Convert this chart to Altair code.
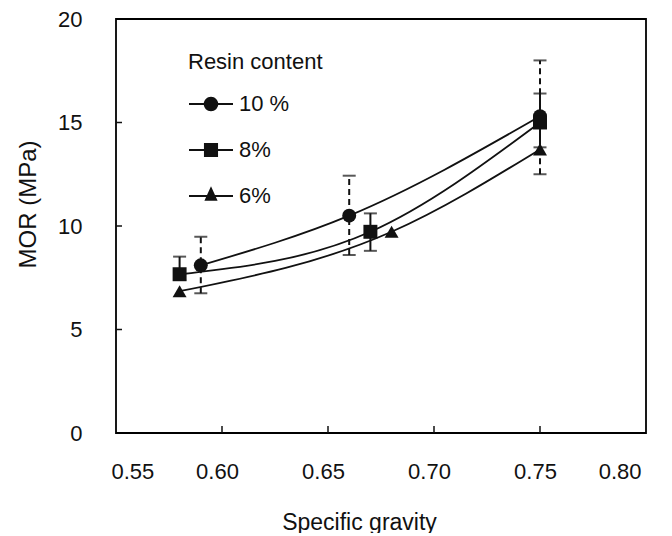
import altair as alt
import pandas as pd

series = ["10 %", "8%", "6%"]
sg_10 = [0.59, 0.66, 0.75]
mor_10 = [8.1, 10.5, 15.3]
sg_8 = [0.58, 0.67, 0.75]
mor_8 = [7.67, 9.72, 15.0]
sg_6 = [0.58, 0.68, 0.75]
mor_6 = [6.85, 9.72, 13.7]

err_series = ["10 %", "10 %", "10 %", "8%", "8%", "8%"]
err_sg = [0.59, 0.66, 0.75, 0.58, 0.67, 0.75]
err_low = [6.75, 8.6, 12.5, 7.4, 8.8, 13.8]
err_high = [9.48, 12.43, 18.0, 8.52, 10.61, 16.4]

x_ticks = [0.55, 0.60, 0.65, 0.70, 0.75, 0.80]
y_ticks = [0, 5, 10, 15, 20]
x_inner = [0.60, 0.65, 0.70, 0.75]
y_inner = [5, 10, 15]

rows = []
for s, xs, ys in zip(series, [sg_10, sg_8, sg_6], [mor_10, mor_8, mor_6]):
    for x, y in zip(xs, ys):
        rows.append({"series": s, "sg": x, "mor": y})
pts = pd.DataFrame(rows)
err = pd.DataFrame({"series": err_series, "sg": err_sg, "lo": err_low, "hi": err_high})

FONT = "Liberation Sans"
INK = "#111111"
W, H = 530, 414

xs = alt.Scale(domain=[0.55, 0.80], nice=False, zero=False)
ys = alt.Scale(domain=[0, 20], nice=False)

x_axis = alt.Axis(values=x_ticks, format=".2f", title="Specific gravity", ticks=False, domain=False,
                  grid=False, labelFontSize=22, labelPadding=28, labelOffset=-5, labelColor=INK,
                  labelFont=FONT, titleFont=FONT, titleFontSize=23, titleFontWeight="normal",
                  titleColor=INK, titleX=243, titleY=96, titleAlign="center", titleBaseline="alphabetic")
y_axis = alt.Axis(values=y_ticks, title="MOR (MPa)", ticks=False, domain=False, grid=False,
                  labelFontSize=22, labelPadding=34, labelColor=INK, labelFont=FONT,
                  titleFont=FONT, titleFontSize=24, titleFontWeight="normal", titleColor=INK,
                  titleX=-88, titleY=185, titleAngle=270, titleAlign="center", titleBaseline="middle")

base = alt.Chart(pts)

lines = base.mark_line(interpolate="monotone", color=INK, strokeWidth=1.8).encode(
    x=alt.X("sg:Q", scale=xs, axis=x_axis),
    y=alt.Y("mor:Q", scale=ys, axis=y_axis),
    detail="series:N",
)

dash_scale = alt.Scale(domain=["10 %", "8%"], range=[[6, 4], [1, 0]])
err_rule = alt.Chart(err).mark_rule(color=INK, strokeWidth=2).encode(
    x="sg:Q", y="lo:Q", y2="hi:Q",
    strokeDash=alt.StrokeDash("series:N", scale=dash_scale, legend=None),
)
cap_lo = alt.Chart(err).mark_tick(color=INK, orient="horizontal", size=13, thickness=2).encode(
    x="sg:Q", y="lo:Q")
cap_hi = alt.Chart(err).mark_tick(color=INK, orient="horizontal", size=13, thickness=2).encode(
    x="sg:Q", y="hi:Q")

points = base.mark_point(filled=True, color=INK, size=195, opacity=1).encode(
    x="sg:Q", y="mor:Q",
    shape=alt.Shape("series:N", scale=alt.Scale(domain=series, range=["circle", "square", "triangle-up"]),
                    legend=None),
)

leg_paths = [
    "M-1,-0.04H1V0.04H-1Z M-0.33,0A0.33,0.33 0 1,1 0.33,0A0.33,0.33 0 1,1 -0.33,0Z",
    "M-1,-0.04H1V0.04H-1Z M-0.32,-0.32H0.32V0.32H-0.32Z",
    "M-1,-0.04H1V0.04H-1Z M0,-0.44L0.3,0.22H-0.3Z",
]
legend_layer = base.transform_filter("datum.mor < 0").mark_point(
    filled=True, color=INK, opacity=1).encode(
    x="sg:Q", y="mor:Q",
    shape=alt.Shape("series:N", scale=alt.Scale(domain=series, range=leg_paths),
                    legend=alt.Legend(title="Resin content", orient="none", legendX=72, legendY=33,
                                      symbolSize=1936, symbolFillColor=INK, symbolOpacity=1,
                                      labelFontSize=22, titleFontSize=22, titleFontWeight="normal",
                                      labelFont=FONT, titleFont=FONT, labelColor=INK, titleColor=INK,
                                      labelOffset=5, rowPadding=12, titlePadding=7, padding=0)),
)

xt = alt.Chart(pd.DataFrame({"v": x_inner})).mark_rule(color=INK, strokeWidth=1.5).encode(
    x="v:Q", y=alt.value(H), y2=alt.value(H - 7))
yt = alt.Chart(pd.DataFrame({"v": y_inner})).mark_rule(color=INK, strokeWidth=1.5).encode(
    y="v:Q", x=alt.value(0), x2=alt.value(6))

chart = alt.layer(xt, yt, err_rule, cap_lo, cap_hi, lines, points, legend_layer).resolve_scale(
    shape="independent"
).properties(
    width=W, height=H,
    autosize=alt.AutoSizeParams(type="none"),
    padding={"left": 108, "top": 11, "right": 10, "bottom": 100},
    background="white",
).configure_view(stroke="black", strokeWidth=1.8)

chart.save("out.html", embed_options={"renderer": "svg", "actions": False})
